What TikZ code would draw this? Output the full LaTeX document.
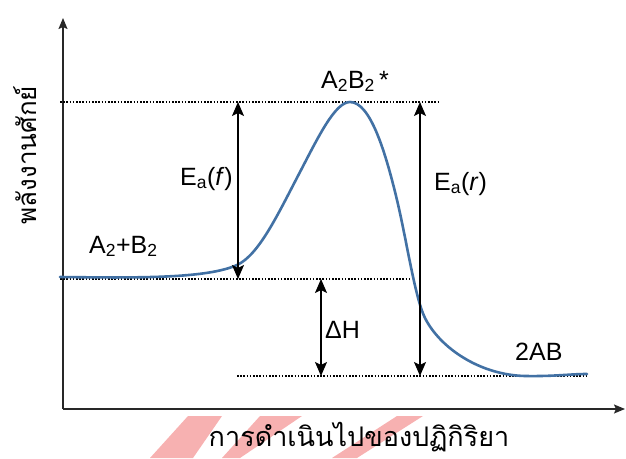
\documentclass[tikz,border=0pt]{standalone}
\usepackage{fontspec}
\setmainfont{Liberation Sans}
\newfontfamily\thaifont[Script=Thai]{Loma}
\usetikzlibrary{arrows.meta}
\definecolor{curveblue}{RGB}{66,113,164}
\definecolor{wmred}{RGB}{240,100,100}
\definecolor{axisgray}{RGB}{40,40,40}
\tikzset{
  lbl/.style={font=\fontsize{25}{28}\selectfont, inner sep=0pt, anchor=base west},
  guide/.style={line width=1.6pt, dash pattern=on 1.6pt off 1.6pt},
  dimarrow/.style={line width=1.5pt, {Stealth[length=14pt,width=12pt,inset=3pt]}-{Stealth[length=14pt,width=12pt,inset=3pt]}},
  axisline/.style={line width=1.5pt, draw=axisgray, -{Stealth[length=11pt,width=9pt,inset=2pt]}},
  wm/.style={fill=wmred, opacity=0.5, draw=none}
}
\begin{document}
\begin{tikzpicture}[x=1pt,y=-1pt]
\useasboundingbox (0,0) rectangle (626,458);
% watermark fragments
\fill[wm] (150,458) -- (193,458) -- (222,416) -- (188,416) -- cycle;
\fill[wm] (222,458) -- (240,458) -- (302,416) -- (260,416) -- cycle;
\fill[wm] (332,458) -- (357,458) -- (423,416) -- (397,416) -- cycle;
% coordinates
\coordinate (o) at (63,409);
\coordinate (ytop) at (63,18);
\coordinate (xend) at (625,409);
\coordinate (topL) at (60,102);
\coordinate (topR) at (438,102);
\coordinate (midL) at (60,279);
\coordinate (midR) at (410,279);
\coordinate (botL) at (237,376);
\coordinate (botR) at (587,376);
\coordinate (fT) at (238,102);
\coordinate (fB) at (238,279);
\coordinate (rT) at (420,102);
\coordinate (rB) at (420,376);
\coordinate (hT) at (321,279);
\coordinate (hB) at (321,376);
% axes
\draw[axisline] (o) -- (ytop);
\draw[axisline] (o) -- (xend);
% guides
\draw[guide] (topL) -- (topR);
\draw[guide] (midL) -- (midR);
\draw[guide] (botL) -- (botR);
% curve
\draw[curveblue, line width=2.6pt, line cap=round]
  (60,277) .. controls (140,278) and (207,278.5) .. (237,265)
  .. controls (259,255) and (278,214) .. (300,172)
  .. controls (318,137.5) and (335,102) .. (350,102)
  .. controls (370,102) and (385,150) .. (397,200)
  .. controls (407,242) and (415,298) .. (425,318)
  .. controls (440,348) and (480,375) .. (525,376)
  .. controls (555,376.5) and (570,374) .. (587,374);
% dimension arrows
\draw[dimarrow] (fT) -- (fB);
\draw[dimarrow] (rT) -- (rB);
\draw[dimarrow] (hT) -- (hB);
% labels
\node[lbl, anchor=base] (ts) at (355,88) {A\textsubscript{2}B\textsubscript{2}\,*};
\node[lbl, anchor=base east] (eaf) at (233,185) {E\textsubscript{a}(\textit{f})};
\node[lbl] (ear) at (434,190) {E\textsubscript{a}(\textit{r})};
\node[lbl] (react) at (89,253) {A\textsubscript{2}+B\textsubscript{2}};
\node[lbl] (dh) at (325,338) {ΔH};
\node[lbl] (prod) at (515,360) {2AB};
\node[inner sep=0pt, anchor=base, font=\thaifont\fontsize{27}{30}\selectfont] (xl) at (359,446) {การดำเนินไปของปฏิกิริยา};
\node[inner sep=0pt, anchor=base, rotate=90, font=\thaifont\fontsize{26}{30}\selectfont] (yl) at (36,155) {พลังงานศักย์};
\end{tikzpicture}
\end{document}
